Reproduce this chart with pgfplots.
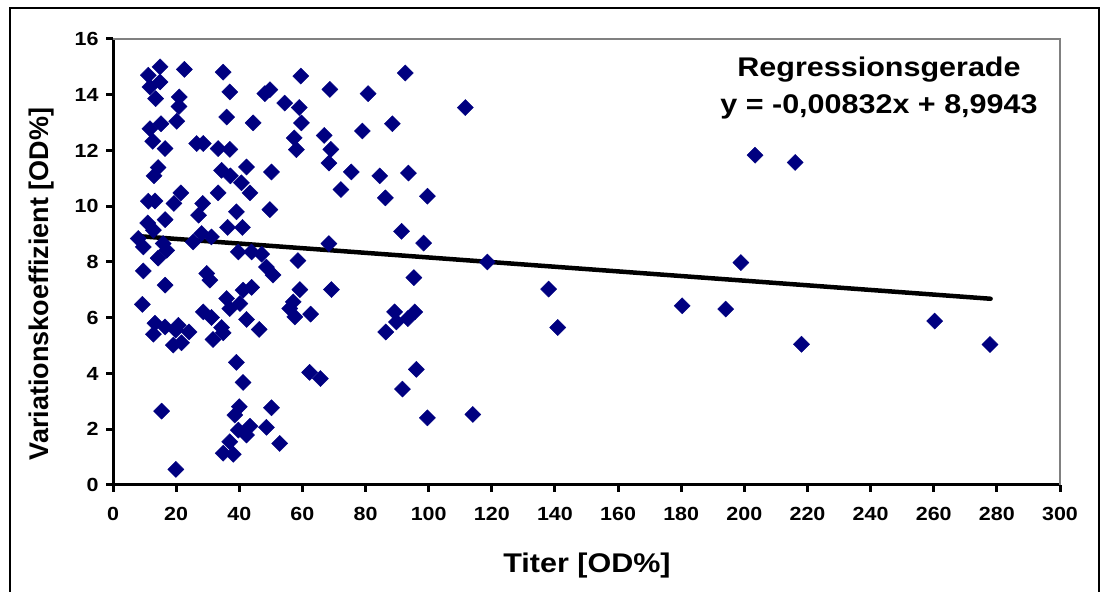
\documentclass[border=0pt]{standalone}
\usepackage{pgfplots}
\pgfplotsset{compat=1.18}
\usepackage{fontspec}
\setmainfont{Liberation Sans}[FakeStretch=1.13]
\newfontfamily\plainsans{Liberation Sans}
\definecolor{excelnavy}{RGB}{0,0,128}
\definecolor{framegray}{RGB}{128,128,128}

\begin{document}
\begin{tikzpicture}[x=1pt,y=1pt]
\useasboundingbox (0,0) rectangle (1107,591);
% outer chart frame (bottom edge is cut off in the reference)
\draw[black, line width=1.5pt] (10,-5) -- (10,583) -- (1099,583) -- (1099,-5);
\begin{axis}[
  at={(113pt,106pt)}, anchor=south west,
  width=947pt, height=446pt, scale only axis,
  xmin=0, xmax=300, ymin=0, ymax=16,
  xtick distance=20, ytick distance=2,
  axis x line*=bottom, axis y line*=left,
  axis line style={line width=3pt, black, -},
  tick align=outside,
  major tick length=7pt,
  tick style={black, line width=3pt},
  ticklabel style={font=\bfseries\fontsize{19}{19}\selectfont},
  xticklabel style={yshift=-12pt},
  yticklabel style={xshift=-4pt},
  /pgf/number format/assume math mode=true,
  clip=false,
]
\draw[framegray, line width=2pt] (rel axis cs:0,1) -- (rel axis cs:1,1) -- (rel axis cs:1,0);
\addplot[only marks, mark=square*, mark size=5.7pt,
  mark options={rotate=45, fill=excelnavy, draw=excelnavy}] table {
x y
14.9 15.00
11.2 14.70
14.9 14.46
11.7 14.28
13.5 13.86
22.6 14.91
34.9 14.81
37.0 14.10
21.0 13.92
20.9 13.58
36.0 13.20
11.7 12.78
15.2 12.96
20.2 13.05
12.6 12.33
16.5 12.07
26.5 12.25
28.6 12.25
33.3 12.07
37.0 12.04
14.3 11.39
13.0 11.09
34.4 11.29
37.2 11.09
42.3 11.41
40.7 10.84
11.2 10.18
13.3 10.19
21.5 10.48
19.3 10.10
33.3 10.48
28.4 10.10
27.1 9.68
39.1 9.80
11.0 9.40
16.5 9.52
12.8 9.14
36.3 9.24
41.0 9.24
8.0 8.84
9.6 8.54
15.9 8.66
17.0 8.42
25.4 8.72
28.1 9.02
31.2 8.90
39.7 8.36
14.3 8.14
9.6 7.68
16.5 7.17
29.7 7.59
30.7 7.35
9.3 6.48
36.0 6.69
41.2 6.99
37.0 6.33
40.2 6.51
42.3 5.94
28.6 6.21
31.2 6.01
13.3 5.80
16.5 5.67
12.8 5.41
20.7 5.73
19.9 5.56
24.1 5.49
19.1 5.02
21.7 5.10
34.4 5.65
34.9 5.46
31.7 5.22
39.1 4.40
41.2 3.68
15.4 2.65
40.0 2.81
38.6 2.51
39.7 1.97
42.3 1.79
37.0 1.55
34.9 1.14
38.1 1.10
19.9 0.56
59.5 14.67
68.7 14.19
80.8 14.04
49.7 14.18
48.1 14.04
54.4 13.70
59.0 13.54
59.7 12.99
44.4 12.99
66.9 12.54
79.0 12.70
57.4 12.45
58.1 12.03
69.0 12.04
68.4 11.55
75.5 11.23
84.5 11.09
50.2 11.23
43.4 10.48
72.2 10.60
86.3 10.30
49.7 9.88
68.4 8.66
43.9 8.36
47.1 8.28
58.6 8.05
48.6 7.82
50.7 7.53
69.2 7.01
43.9 7.09
57.1 6.57
56.0 6.33
57.6 6.03
62.6 6.13
59.2 7.01
46.3 5.58
62.3 4.04
65.7 3.82
50.2 2.77
48.6 2.07
43.4 2.11
52.8 1.49
92.6 14.78
111.6 13.54
88.5 12.96
93.6 11.19
99.6 10.36
91.4 9.10
98.4 8.68
95.3 7.44
89.2 6.21
95.6 6.21
93.4 5.97
89.8 5.85
86.4 5.49
96.1 4.15
91.7 3.44
99.6 2.41
114.0 2.53
118.6 8.00
138.0 7.03
140.9 5.65
180.3 6.43
203.4 11.83
216.1 11.57
198.9 7.98
194.1 6.31
218.1 5.05
260.3 5.88
277.8 5.04
};
% regression line y = -0.00832x + 8.9943 over the data range
\addplot[black, line width=4.5pt, line cap=round] coordinates {(7.5,8.932) (278,6.681)};
\end{axis}
\node[anchor=base, font=\bfseries\fontsize{27}{27}\selectfont] at (587,19) {Titer [OD\%]};
\node[anchor=base, rotate=90, font=\plainsans\bfseries\fontsize{27}{27}\selectfont] at (48,307) {Variationskoeffizient [OD\%]};
\node[anchor=base, font=\bfseries\fontsize{27}{27}\selectfont] at (879,514) {Regressionsgerade};
\node[anchor=base, font=\bfseries\fontsize{27}{27}\selectfont] at (879,477) {y = -0,00832x + 8,9943};
\end{tikzpicture}
\end{document}
